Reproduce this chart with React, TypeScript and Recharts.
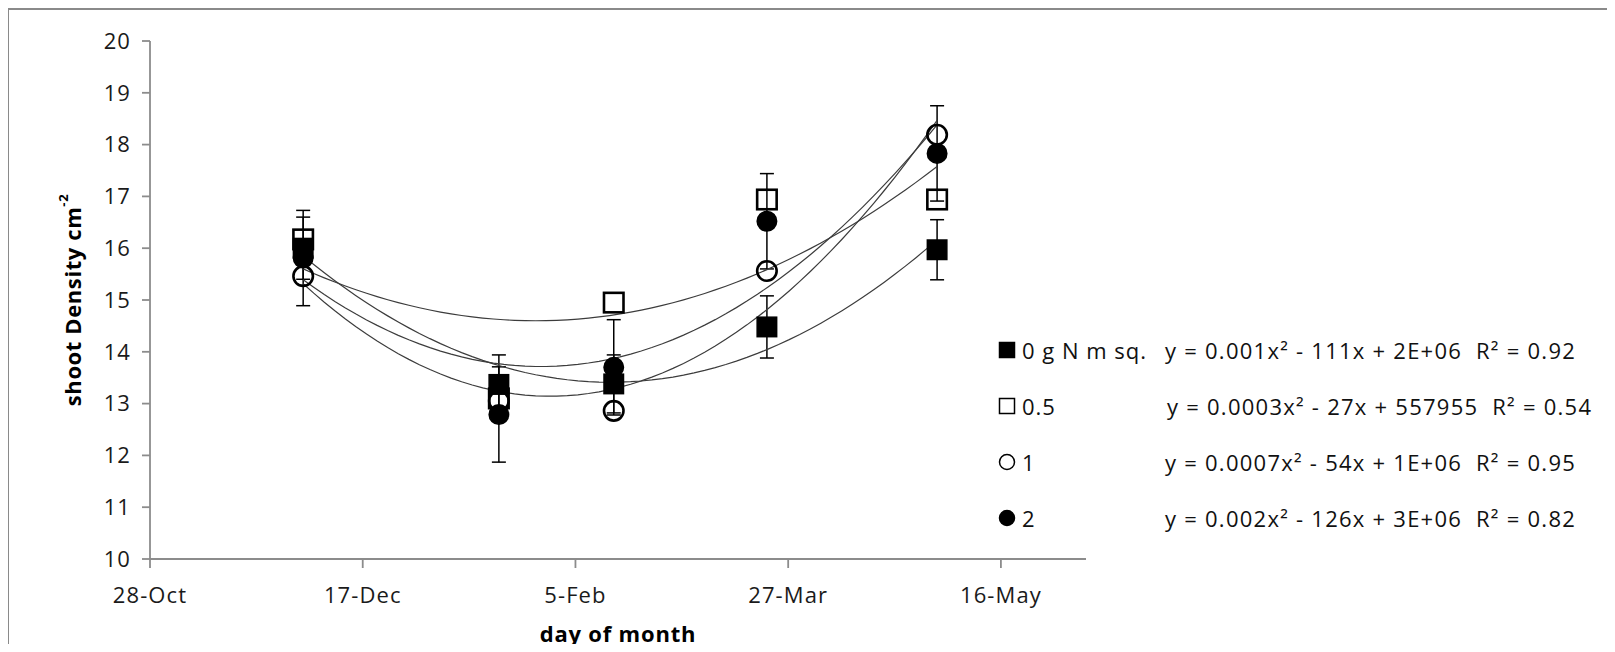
import React from 'react';
import { ScatterChart, Scatter, XAxis, YAxis, ErrorBar, Legend } from 'recharts';

const FONT = '"Open Sans", sans-serif';

// sampling dates and axis ticks
const sampleDates = ['2010-12-03', '2011-01-18', '2011-02-14', '2011-03-22', '2011-05-01'];
const tickDates = ['2010-10-28', '2010-12-17', '2011-02-05', '2011-03-27', '2011-05-16'];
const axisStart = '2010-10-28';
const axisEnd = '2011-06-05';
const yTicks = [10, 11, 12, 13, 14, 15, 16, 17, 18, 19, 20];

// shoot density per N treatment
const n0 = [16.0, 13.37, 13.38, 14.48, 15.97];
const n0Err = [0.6, 0.57, 0.56, 0.6, 0.58];
const n05 = [16.17, 13.1, 14.95, 16.94, 16.94];
const n1 = [15.46, 13.05, 12.86, 15.56, 18.19];
const n2 = [15.81, 12.79, 13.7, 16.52, 17.83];
const n2Err = [0.92, 0.92, 0.92, 0.92, 0.92];

const seriesNames = ['0 g N m sq.', '0.5', '1', '2'];
const equations = [
  'y = 0.001x² - 111x + 2E+06  R² = 0.92',
  'y = 0.0003x² - 27x + 557955  R² = 0.54',
  'y = 0.0007x² - 54x + 1E+06  R² = 0.95',
  'y = 0.002x² - 126x + 3E+06  R² = 0.82',
];
const kinds = ['fsq', 'osq', 'oci', 'fci'];

const DAY = 86400000;
const MONTHS = ['Jan', 'Feb', 'Mar', 'Apr', 'May', 'Jun', 'Jul', 'Aug', 'Sep', 'Oct', 'Nov', 'Dec'];
const toMs = (s: string) => new Date(s + 'T00:00:00Z').getTime();
const fmtDate = (v: number) => {
  const d = new Date(v);
  return `${d.getUTCDate()}-${MONTHS[d.getUTCMonth()]}`;
};

const xs = sampleDates.map(toMs);
const mkData = (vals: number[], errs?: number[]) =>
  vals.map((y, i) => ({ x: xs[i], y, err: errs ? errs[i] : 0 }));

// 2nd order polynomial trendline (least squares), like the spreadsheet one
function trend(vals: number[]) {
  const t = xs.map(v => (v - xs[0]) / DAY);
  const S = (p: number) => t.reduce((s, v) => s + Math.pow(v, p), 0);
  const T = (p: number) => t.reduce((s, v, i) => s + Math.pow(v, p) * vals[i], 0);
  const A = [
    [S(0), S(1), S(2), T(0)],
    [S(1), S(2), S(3), T(1)],
    [S(2), S(3), S(4), T(2)],
  ];
  for (let i = 0; i < 3; i++) {
    for (let k = i + 1; k < 3; k++) {
      const f = A[k][i] / A[i][i];
      for (let j = i; j < 4; j++) A[k][j] -= f * A[i][j];
    }
  }
  const c = [0, 0, 0];
  for (let i = 2; i >= 0; i--) {
    let s = A[i][3];
    for (let j = i + 1; j < 3; j++) s -= A[i][j] * c[j];
    c[i] = s / A[i][i];
  }
  const tMax = t[t.length - 1];
  const pts = [];
  for (let i = 0; i <= 60; i++) {
    const tt = (tMax * i) / 60;
    pts.push({ x: xs[0] + tt * DAY, y: c[0] + c[1] * tt + c[2] * tt * tt });
  }
  return pts;
}

const marker = (kind: string, size: number, sw: number) => (p: any) => {
  const { cx, cy } = p;
  if (cx == null || cy == null) return <g />;
  const filled = kind[0] === 'f';
  if (kind.endsWith('sq')) {
    return (
      <rect x={cx - size / 2} y={cy - size / 2} width={size} height={size}
        fill={filled ? '#000' : 'none'} stroke="#000" strokeWidth={sw} />
    );
  }
  return <circle cx={cx} cy={cy} r={size / 2} fill={filled ? '#000' : 'none'} stroke="#000" strokeWidth={sw} />;
};

const noShape = () => <g />;

const YLabel = (props: any) => {
  const { viewBox } = props;
  const cx = viewBox.x + 24;
  const cy = viewBox.y + viewBox.height / 2;
  return (
    <text x={cx} y={cy} transform={`rotate(-90, ${cx}, ${cy})`} textAnchor="middle" dominantBaseline="central"
      fontFamily={FONT} fontWeight={700} fontSize={22} letterSpacing={0.6} fill="#000">
      shoot Density cm<tspan dy={-9} fontSize={13}>-2</tspan>
    </text>
  );
};

const XLabel = (props: any) => {
  const { viewBox } = props;
  return (
    <text x={viewBox.x + viewBox.width / 2} y={viewBox.y + 74} textAnchor="middle" dominantBaseline="central"
      fontFamily={FONT} fontWeight={700} fontSize={22} letterSpacing={0.8} fill="#000">
      day of month
    </text>
  );
};

const eqLeft = [167, 169, 167, 167];
const ROW = 56;

const renderLegend = () => (
  <div style={{ position: 'relative', width: 620, height: 230, fontFamily: FONT, fontSize: 22, letterSpacing: 1, color: '#111' }}>
    {seriesNames.map((name, i) => (
      <React.Fragment key={name}>
        <div style={{ position: 'absolute', left: 0, top: i * ROW, height: 55, display: 'flex', alignItems: 'center', whiteSpace: 'nowrap' }}>
          <svg width={18} height={18} style={{ display: 'block' }}>
            {marker(kinds[i], 15, 1.5)({ cx: 9, cy: 9 })}
          </svg>
          <span style={{ marginLeft: 6 }}>{name}</span>
        </div>
        <div style={{ position: 'absolute', left: eqLeft[i], top: i * ROW, height: 55, display: 'flex', alignItems: 'center', whiteSpace: 'pre', letterSpacing: 1.25 }}>
          {equations[i]}
        </div>
      </React.Fragment>
    ))}
  </div>
);

const App: React.FC = () => {
  const series = [mkData(n0, n0Err), mkData(n05), mkData(n1), mkData(n2, n2Err)];
  const trends = [n0, n05, n1, n2].map(trend);
  const tickStyle = { fill: '#1a1a1a', fontSize: 22, fontFamily: FONT, letterSpacing: 1.1 };

  return (
    <div style={{ position: 'relative', width: 1599, height: 644, marginBottom: -8 }}>
      <ScatterChart width={1599} height={644} margin={{ top: 33, right: 521, bottom: 43, left: 40 }}>
        <XAxis type="number" dataKey="x" domain={[toMs(axisStart), toMs(axisEnd)]} ticks={tickDates.map(toMs)}
          tickFormatter={fmtDate} allowDataOverflow height={50} stroke="#8c8c8c" strokeWidth={1.8}
          tickSize={9} tickMargin={19} tick={tickStyle} label={<XLabel />} />
        <YAxis type="number" dataKey="y" domain={[10, 20]} ticks={yTicks} allowDataOverflow width={102}
          stroke="#8c8c8c" strokeWidth={1.8} tickSize={8} tickMargin={11} tick={tickStyle} label={<YLabel />} />
        {trends.map((tr, i) => (
          <Scatter key={'t' + i} data={tr} line={{ stroke: '#3c3c3c', strokeWidth: 1.2 }} shape={noShape}
            isAnimationActive={false} legendType="none" />
        ))}
        {series.map((d, i) => (
          <Scatter key={seriesNames[i]} name={seriesNames[i]} data={d} isAnimationActive={false}
            shape={marker(kinds[i], 19.5, kinds[i][0] === 'f' ? 1.5 : 2.6)}>
            {(i === 0 || i === 3) && (
              <ErrorBar dataKey="err" direction="y" width={7} stroke="#000" strokeWidth={1.5} isAnimationActive={false} />
            )}
          </Scatter>
        ))}
        <Legend layout="vertical" align="center" verticalAlign="middle" content={renderLegend}
          wrapperStyle={{ left: 990, top: 314, width: 620, height: 230 }} />
      </ScatterChart>
      <div style={{
        position: 'absolute', zIndex: 5, pointerEvents: 'none', left: -1, top: 0, width: 1607, height: 644,
        borderTop: '2px solid #8a8a8a', borderLeft: '2px solid #8a8a8a', boxSizing: 'border-box',
      }} />
    </div>
  );
};

export default App;
